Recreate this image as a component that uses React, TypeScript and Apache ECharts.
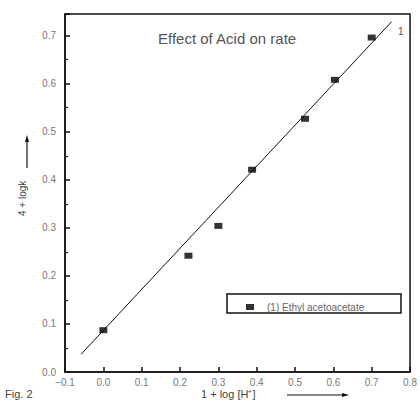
import React, { useEffect, useRef } from "react";
import * as echarts from "echarts";

const xValues = [0.0, 0.222, 0.3, 0.388, 0.526, 0.604, 0.7];
const yValues = [0.087, 0.242, 0.304, 0.421, 0.527, 0.608, 0.696];
const fitX = [-0.058, 0.752];
const fitY = [0.037, 0.729];
const seriesName = "(1) Ethyl acetoacetate";
const titleText = "Effect of Acid on rate";
const yLabel = "4 + logk";
const xLabel = "1 + log [H\u207A]";
const figLabel = "Fig. 2";

const FONT = "'Liberation Sans', Arial, sans-serif";

export default function App() {
  const ref = useRef<HTMLDivElement>(null);
  useEffect(() => {
    if (!ref.current) return;
    const chart = echarts.init(ref.current, undefined, { renderer: "svg" });
    const fmt = (v: number) => {
      const s = v.toFixed(1);
      return s === "-0.0" ? "0.0" : s.replace("-", "\u2212");
    };
    chart.setOption({
      animation: false,
      backgroundColor: "#fff",
      textStyle: { fontFamily: FONT },
      title: {
        text: titleText,
        left: 153,
        top: 26,
        textStyle: { fontSize: 15, fontWeight: "normal", color: "#555", fontFamily: FONT },
      },
      grid: {
        left: 65,
        right: 8,
        top: 14,
        bottom: 30,
        show: true,
        borderColor: "#111",
        borderWidth: 1.5,
        backgroundColor: "transparent",
      },
      legend: {
        left: 241,
        top: 297,
        itemWidth: 8,
        itemHeight: 6,
        itemGap: 4,
        data: [{ name: seriesName, icon: "rect" }],
        textStyle: { fontSize: 10, color: "#666", fontFamily: FONT, padding: [0, 0, 0, 8] },
      },
      xAxis: {
        type: "value",
        min: -0.1,
        max: 0.8,
        interval: 0.1,
        axisLine: { show: true, onZero: false, lineStyle: { color: "#111", width: 1.5 } },
        axisTick: { show: true, inside: true, length: 5, lineStyle: { color: "#111", width: 1.5 } },
        splitLine: { show: false },
        axisLabel: { formatter: fmt, fontSize: 10, color: "#777", margin: 5, fontFamily: FONT },
      },
      yAxis: {
        type: "value",
        min: 0,
        max: 0.745,
        interval: 0.1,
        axisLine: { show: true, onZero: false, lineStyle: { color: "#111", width: 1.5 } },
        axisTick: { show: true, inside: true, length: 5, lineStyle: { color: "#111", width: 1.5 } },
        minorTick: { show: true, splitNumber: 2, length: 3, lineStyle: { color: "#111", width: 1.2 } },
        splitLine: { show: false },
        minorSplitLine: { show: false },
        axisLabel: {
          formatter: fmt,
          fontSize: 10,
          color: "#777",
          margin: 9,
          fontFamily: FONT,
          showMaxLabel: false,
        },
      },
      series: [
        {
          type: "line",
          name: "fit",
          data: fitX.map((x, i) => [x, fitY[i]]),
          showSymbol: false,
          symbol: "none",
          lineStyle: { color: "#111", width: 1 },
          silent: true,
          z: 2,
        },
        {
          type: "scatter",
          name: seriesName,
          data: xValues.map((x, i) => [x, yValues[i]]),
          symbol: "rect",
          symbolSize: [8, 6],
          itemStyle: { color: "#000" },
          z: 3,
        },
      ],
      graphic: [
        {
          type: "rect",
          shape: { x: 227, y: 294, width: 174, height: 19 },
          style: { fill: "none", stroke: "#111", lineWidth: 1.5 },
        },
        {
          type: "text",
          x: 398,
          y: 26,
          style: { text: "1", fontSize: 10, fill: "#555", fontFamily: FONT },
        },
        {
          type: "text",
          x: 17,
          y: 216,
          rotation: Math.PI / 2,
          style: { text: yLabel, fontSize: 10, fill: "#444", fontFamily: FONT },
        },
        {
          type: "line",
          shape: { x1: 27, y1: 168, x2: 27, y2: 140 },
          style: { stroke: "#111", lineWidth: 1.2 },
        },
        {
          type: "polygon",
          shape: { points: [[25, 142], [27, 135], [29, 142]] },
          style: { fill: "#111" },
        },
        {
          type: "text",
          x: 201,
          y: 388,
          style: { text: xLabel, fontSize: 11, fill: "#444", fontFamily: FONT },
        },
        {
          type: "line",
          shape: { x1: 287, y1: 395, x2: 344, y2: 395 },
          style: { stroke: "#111", lineWidth: 1.2 },
        },
        {
          type: "polygon",
          shape: { points: [[342, 393], [349, 395], [342, 397]] },
          style: { fill: "#111" },
        },
        {
          type: "text",
          x: 5,
          y: 388,
          style: { text: figLabel, fontSize: 11, fill: "#444", fontFamily: FONT },
        },
      ],
    });
    return () => chart.dispose();
  }, []);
  return (
    <div
      ref={ref}
      style={{ position: "absolute", left: 0, top: 0, width: 420, height: 402 }}
    />
  );
}
